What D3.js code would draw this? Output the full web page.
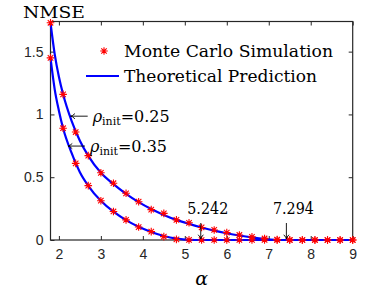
<!DOCTYPE html>
<html>
<head>
<meta charset="utf-8">
<script src="https://cdn.jsdelivr.net/npm/d3@7"></script>
<style>
	body { margin: 0; background: #fff; }
	.tick text { font-family: "Liberation Sans", Arial, sans-serif; font-size: 14px; fill: #262626; }
	.tick line, .domain { stroke: #262626; }
</style>
</head>
<body>
<svg id="chart" width="390" height="293"></svg>
<script>
(function() {
	"use strict";

	// Monte Carlo points (markers)
	var alphaMC = [1.8, 2.1, 2.4, 2.7, 3.0, 3.3, 3.6, 3.9, 4.2, 4.5, 4.8, 5.1, 5.4, 5.7, 6.0, 6.3, 6.6, 6.9, 7.2, 7.5, 7.8, 8.1, 8.4, 8.7, 9.0];
	var mcRho025 = [1.73, 1.16, 0.86, 0.672, 0.535, 0.452, 0.372, 0.305, 0.242, 0.212, 0.16, 0.137, 0.10, 0.08, 0.059, 0.04, 0.025, 0.012, 0.003, 0, 0, 0, 0, 0, 0];
	var mcRho035 = [1.45, 0.89, 0.61, 0.433, 0.313, 0.227, 0.16, 0.103, 0.067, 0.027, 0.005, 0.001, 0, 0, 0, 0, 0, 0, 0, 0, 0, 0, 0, 0, 0];

	// theoretical curves
	var alphaTh025 = [1.8, 1.9, 2.0, 2.1, 2.3, 2.5, 2.7, 3.0, 3.3, 3.6, 3.9, 4.2, 4.5, 4.8, 5.1, 5.4, 5.7, 6.0, 6.3, 6.6, 6.9, 7.294, 9.0];
	var thRho025 = [1.73, 1.48, 1.30, 1.16, 0.95, 0.79, 0.67, 0.535, 0.445, 0.368, 0.302, 0.247, 0.200, 0.160, 0.128, 0.100, 0.075, 0.054, 0.036, 0.021, 0.009, 0, 0];
	var alphaTh035 = [1.8, 1.9, 2.0, 2.1, 2.3, 2.5, 2.7, 3.0, 3.3, 3.6, 3.9, 4.2, 4.5, 4.8, 5.0, 5.242, 9.0];
	var thRho035 = [1.45, 1.20, 1.03, 0.89, 0.695, 0.54, 0.432, 0.312, 0.225, 0.158, 0.105, 0.064, 0.032, 0.011, 0.003, 0, 0];

	var xTicks = [2, 3, 4, 5, 6, 7, 8, 9];
	var yTicks = [0, 0.5, 1, 1.5];

	// annotations: arrow tips in data units
	var rhoLabels = [
		{ rho: '0.25', alpha: 2.281, value: 0.986 },
		{ rho: '0.35', alpha: 2.217, value: 0.748 }
	];
	var thresholdLabels = [
		{ text: '5.242', alpha: 5.38 },
		{ text: '7.294', alpha: 7.42 }
	];

	var SERIF = '"DejaVu Serif", serif';
	var left = 50.5, right = 352.7, top = 21.5, bottom = 240;

	var svg = d3.select('#chart');

	var x = d3.scaleLinear().domain([1.8, 9]).range([left, right]);
	var y = d3.scaleLinear().domain([0, 1.74]).range([bottom, top]);

	drawAxes(svg, x, y);

	var line = d3.line()
		.x(function (d) { return x(d[0]); })
		.y(function (d) { return y(d[1]); })
		.curve(d3.curveMonotoneX);

	drawCurve(svg, line, d3.zip(alphaTh025, thRho025));
	drawCurve(svg, line, d3.zip(alphaTh035, thRho035));

	drawMarkers(svg, x, y, d3.zip(alphaMC, mcRho025));
	drawMarkers(svg, x, y, d3.zip(alphaMC, mcRho035));

	drawLegend(svg);
	drawAnnotations(svg, x, y);

	serifText(svg, 23, 18.3, 'NMSE', 16, 62, 'start');
	svg.append('text')
		.attr('font-family', SERIF)
		.attr('font-size', 19)
		.attr('font-style', 'italic')
		.attr('x', (left + right) / 2)
		.attr('y', 285)
		.attr('text-anchor', 'middle')
		.text('α');

	function drawAxes(svg, x, y) {
		var tick = 4;

		svg.append('g')
			.attr('transform', 'translate(0,' + bottom + ')')
			.call(d3.axisBottom(x).tickValues(xTicks).tickSize(-tick).tickSizeOuter(0).tickPadding(9).tickFormat(d3.format('d')));
		svg.append('g')
			.attr('transform', 'translate(0,' + top + ')')
			.call(d3.axisTop(x).tickValues(xTicks).tickSize(-tick).tickSizeOuter(0).tickFormat(''));
		svg.append('g')
			.attr('transform', 'translate(' + left + ',0)')
			.call(d3.axisLeft(y).tickValues(yTicks).tickSize(-tick).tickSizeOuter(0).tickPadding(7).tickFormat(d3.format('')));
		svg.append('g')
			.attr('transform', 'translate(' + right + ',0)')
			.call(d3.axisRight(y).tickValues(yTicks).tickSize(-tick).tickSizeOuter(0).tickFormat(''));

		svg.selectAll('.domain').remove();
		svg.append('rect')
			.attr('x', left)
			.attr('y', top)
			.attr('width', right - left)
			.attr('height', bottom - top)
			.attr('fill', 'none')
			.attr('stroke', '#262626')
			.attr('stroke-width', 1.2);
	}

	function drawCurve(svg, line, points) {
		svg.append('path')
			.datum(points)
			.attr('d', line)
			.attr('fill', 'none')
			.attr('stroke', '#0000ff')
			.attr('stroke-width', 2.2);
	}

	function asterisk(r) {
		var d = r * 0.72;
		return 'M' + (-r) + ',0H' + r + 'M0,' + (-r) + 'V' + r +
			'M' + (-d) + ',' + (-d) + 'L' + d + ',' + d +
			'M' + (-d) + ',' + d + 'L' + d + ',' + (-d);
	}

	function drawMarkers(svg, x, y, points) {
		svg.append('g').selectAll('path')
			.data(points)
			.enter()
			.append('path')
			.attr('transform', function (d) { return 'translate(' + x(d[0]) + ',' + y(d[1]) + ')'; })
			.attr('d', asterisk(3.8))
			.attr('stroke', '#ff0000')
			.attr('stroke-width', 1.1)
			.attr('fill', 'none');
	}

	function serifText(g, tx, ty, str, size, width, anchor) {
		return g.append('text')
			.attr('font-family', SERIF)
			.attr('font-size', size)
			.attr('fill', '#000')
			.attr('x', tx)
			.attr('y', ty)
			.attr('text-anchor', anchor)
			.attr('textLength', width)
			.attr('lengthAdjust', 'spacingAndGlyphs')
			.text(str);
	}

	function drawLegend(svg) {
		var g = svg.append('g');
		g.append('path')
			.attr('transform', 'translate(104,51)')
			.attr('d', asterisk(3.8))
			.attr('stroke', '#ff0000')
			.attr('stroke-width', 1.1);
		g.append('line')
			.attr('x1', 86).attr('x2', 119)
			.attr('y1', 76).attr('y2', 76)
			.attr('stroke', '#0000ff')
			.attr('stroke-width', 2.2);
		serifText(g, 124, 56.7, 'Monte Carlo Simulation', 16, 209, 'start');
		serifText(g, 124, 81.7, 'Theoretical Prediction', 16, 193, 'start');
	}

	function arrowPath(x0, y0, x1, y1) {
		// shaft from (x0,y0) to tip (x1,y1), with two barbs
		var a = Math.atan2(y1 - y0, x1 - x0), h = 5, s = 0.55;
		return 'M' + x0 + ',' + y0 + 'L' + x1 + ',' + y1 +
			'M' + (x1 - h * Math.cos(a - s)) + ',' + (y1 - h * Math.sin(a - s)) +
			'Q' + (x1 - 1.5 * Math.cos(a)) + ',' + (y1 - 1.5 * Math.sin(a)) + ' ' + x1 + ',' + y1 +
			'Q' + (x1 - 1.5 * Math.cos(a)) + ',' + (y1 - 1.5 * Math.sin(a)) + ' ' +
			(x1 - h * Math.cos(a + s)) + ',' + (y1 - h * Math.sin(a + s));
	}

	function drawAnnotations(svg, x, y) {
		rhoLabels.forEach(function (lab) {
			var tx = x(lab.alpha), ty = y(lab.value);
			svg.append('path')
				.attr('d', arrowPath(tx + 17, ty, tx, ty))
				.attr('fill', 'none')
				.attr('stroke', '#000')
				.attr('stroke-width', 0.9);
			var t = svg.append('text')
				.attr('font-family', SERIF)
				.attr('font-size', 16)
				.attr('x', tx + 22)
				.attr('y', ty + 5.5)
				.attr('textLength', 77)
				.attr('lengthAdjust', 'spacingAndGlyphs');
			t.append('tspan').attr('font-style', 'italic').text('ρ');
			t.append('tspan').attr('dy', 3.5).attr('font-size', 11).text('init');
			t.append('tspan').attr('dy', -3.5).text('=' + lab.rho);
		});

		thresholdLabels.forEach(function (lab) {
			var tx = x(lab.alpha);
			svg.append('path')
				.attr('d', arrowPath(tx, y(0) - 17, tx, y(0) - 1))
				.attr('fill', 'none')
				.attr('stroke', '#000')
				.attr('stroke-width', 0.9);
			serifText(svg, tx + 7, 214, lab.text, 16, 41, 'middle');
		});
	}
}());
</script>
</body>
</html>
